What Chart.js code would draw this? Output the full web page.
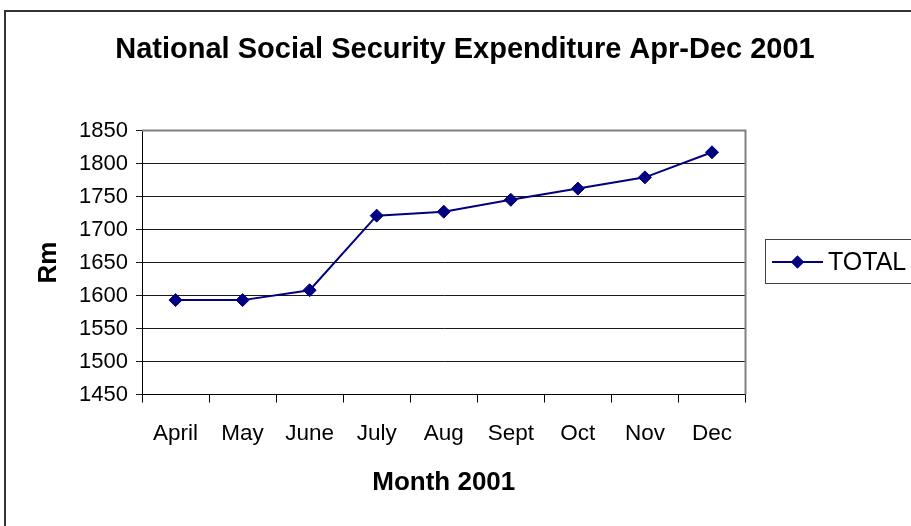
<!DOCTYPE html>
<html>
<head>
<meta charset="utf-8">
<script src="https://cdn.jsdelivr.net/npm/chart.js@4/dist/chart.umd.min.js"></script>
<style>
    html, body { margin: 0; padding: 0; background: #fff; }
    #wrap { width: 911px; height: 526px; position: relative; }
</style>
</head>
<body>
<div id="wrap"><canvas id="myChart" width="911" height="526"></canvas></div>
<script>
const months = ['April', 'May', 'June', 'July', 'Aug', 'Sept', 'Oct', 'Nov', 'Dec'];
const totals = [1593, 1593, 1608, 1721, 1727, 1745, 1762, 1779, 1817];
const yTicks = [1450, 1500, 1550, 1600, 1650, 1700, 1750, 1800, 1850];

const chartTitle = 'National Social Security Expenditure Apr-Dec 2001';
const seriesName = 'TOTAL';
const navy = '#000080';
const fontFamily = 'Arial, "Liberation Sans", sans-serif';

// frame, title, plot border and legend box
const decorPlugin = {
    id: 'decor',
    beforeDraw(chart) {
        const ctx = chart.ctx;
        ctx.save();
        ctx.fillStyle = '#fff';
        ctx.fillRect(0, 0, chart.width, chart.height);
        ctx.strokeStyle = '#333';
        ctx.lineWidth = 2;
        ctx.strokeRect(5, 11, 1000, 1000);
        ctx.fillStyle = '#000';
        ctx.font = 'bold 29px ' + fontFamily;
        ctx.textAlign = 'center';
        ctx.textBaseline = 'middle';
        ctx.fillText(chartTitle, 465, 50);
        ctx.restore();
    },
    beforeDatasetsDraw(chart) {
        const ctx = chart.ctx;
        const a = chart.chartArea;
        ctx.save();
        ctx.strokeStyle = '#808080';
        ctx.lineWidth = 2;
        ctx.beginPath();
        ctx.moveTo(a.left, a.top);
        ctx.lineTo(a.right, a.top);
        ctx.lineTo(a.right, a.bottom);
        ctx.stroke();
        ctx.restore();
    },
    afterDraw(chart) {
        const ctx = chart.ctx;
        const ds = chart.data.datasets[0];
        const cy = 262;
        ctx.save();
        ctx.strokeStyle = '#404040';
        ctx.lineWidth = 1;
        ctx.strokeRect(765.5, 239.5, 200, 44);
        ctx.strokeStyle = ds.borderColor;
        ctx.lineWidth = ds.borderWidth;
        ctx.beginPath();
        ctx.moveTo(772, cy);
        ctx.lineTo(823, cy);
        ctx.stroke();
        ctx.fillStyle = ds.pointBackgroundColor;
        Chart.helpers.drawPoint(ctx, { pointStyle: 'rectRot', radius: 6.5, borderWidth: 0 }, 797.5, cy);
        ctx.fill();
        ctx.fillStyle = '#000';
        ctx.font = '25px ' + fontFamily;
        ctx.textAlign = 'left';
        ctx.textBaseline = 'middle';
        ctx.fillText(ds.label, 828, cy + 1);
        ctx.restore();
    }
};

const ctx = document.getElementById('myChart').getContext('2d');
const myChart = new Chart(ctx, {
    type: 'line',
    data: {
        labels: months,
        datasets: [
            {
                label: seriesName,
                data: totals,
                borderColor: navy,
                backgroundColor: navy,
                borderWidth: 2,
                pointStyle: 'rectRot',
                pointRadius: 6.5,
                pointBorderWidth: 1,
                pointBackgroundColor: navy,
                pointBorderColor: navy,
                tension: 0,
                fill: false
            }
        ]
    },
    options: {
        responsive: false,
        animation: false,
        events: [],
        layout: {
            padding: { left: 0, right: 165.5, top: 130.5, bottom: 0 }
        },
        plugins: {
            legend: { display: false },
            tooltip: { enabled: false }
        },
        scales: {
            x: {
                offset: true,
                afterFit: function(scale) {
                    scale.height = 131.5;
                },
                grid: {
                    offset: true,
                    drawOnChartArea: false,
                    drawTicks: true,
                    tickLength: 8,
                    color: '#000'
                },
                border: { color: '#000', width: 1 },
                ticks: {
                    color: '#000',
                    padding: 18,
                    maxRotation: 0,
                    autoSkip: false,
                    font: { family: fontFamily, size: 22.5 }
                },
                title: {
                    display: true,
                    text: 'Month 2001',
                    color: '#000',
                    padding: { top: 0, bottom: 28 },
                    font: { family: fontFamily, size: 26, weight: 'bold' }
                }
            },
            y: {
                min: yTicks[0],
                max: yTicks[yTicks.length - 1],
                afterFit: function(scale) {
                    scale.width = 142;
                },
                afterBuildTicks: function(scale) {
                    scale.ticks = yTicks.map(v => ({ value: v }));
                },
                grid: {
                    color: '#1a1a1a',
                    tickLength: 6,
                    lineWidth: 1
                },
                border: { color: '#000', width: 1 },
                ticks: {
                    color: '#000',
                    padding: 8,
                    font: { family: fontFamily, size: 22 },
                    callback: function(value) {
                        return String(value);
                    }
                },
                title: {
                    display: true,
                    text: 'Rm',
                    color: '#000',
                    padding: { top: 33, bottom: 0 },
                    font: { family: fontFamily, size: 26, weight: 'bold' }
                }
            }
        }
    },
    plugins: [decorPlugin]
});
</script>
</body>
</html>
